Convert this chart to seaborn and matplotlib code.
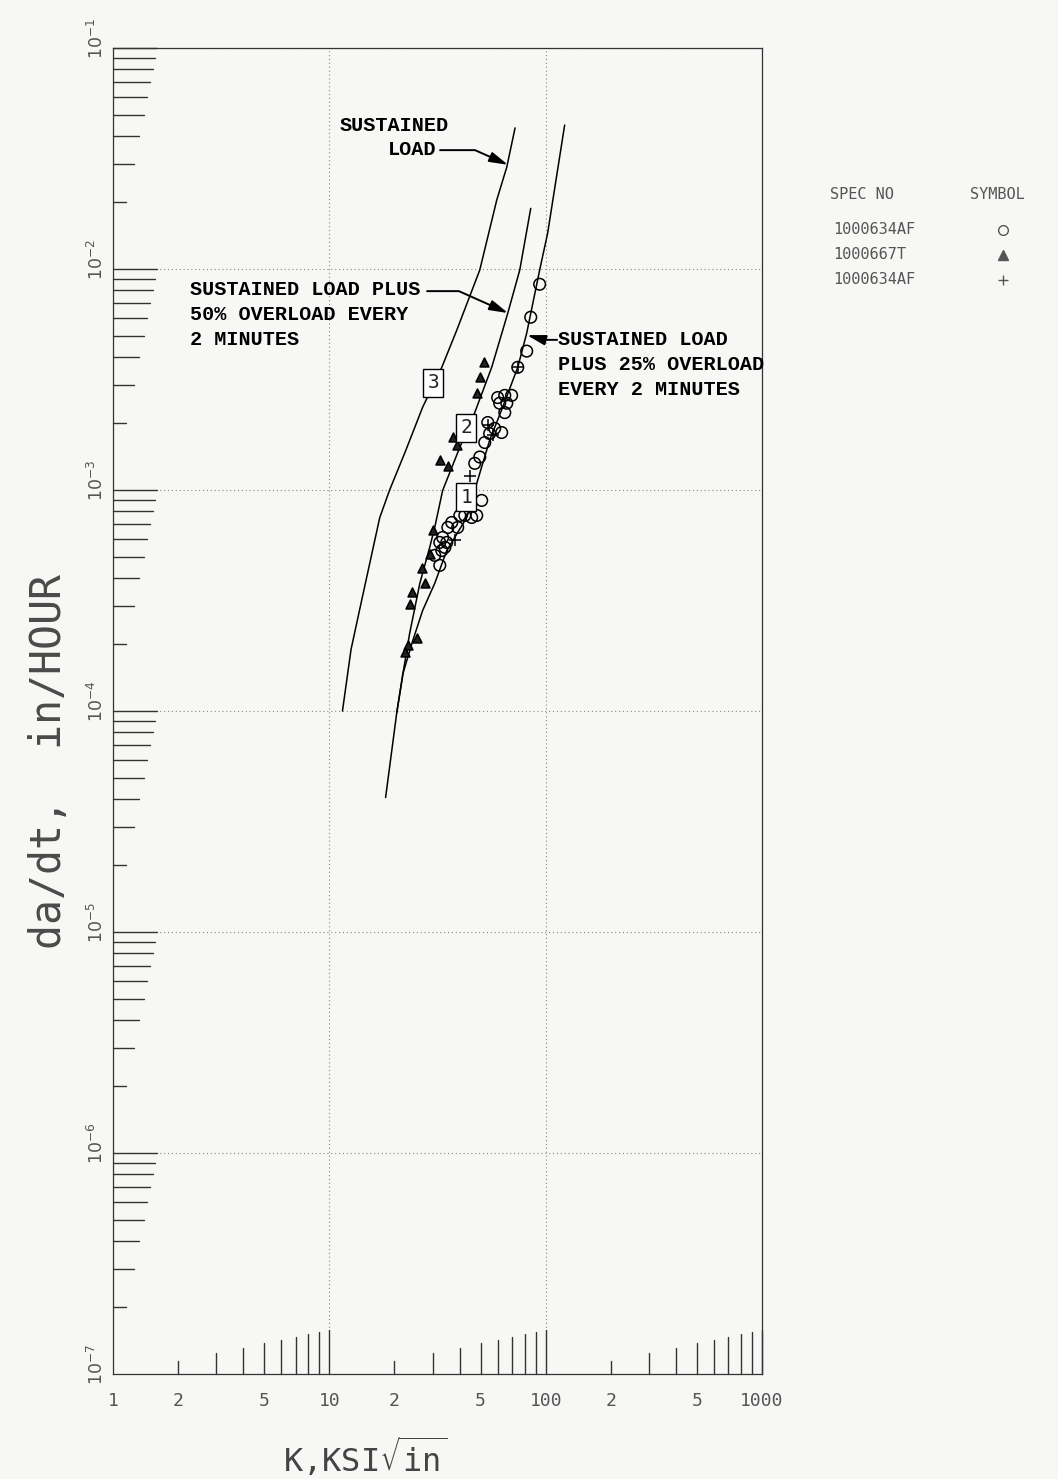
import numpy as np
import matplotlib
matplotlib.use("Agg")
import matplotlib.pyplot as plt
import matplotlib.transforms as mtransforms
from matplotlib.lines import Line2D
import seaborn as sns

# ------------------------------------------------------------------ data
# Curve 1: sustained load plus 25% overload every 2 minutes
curve1_K = [18.2, 20.5, 21.9, 24.3, 27.0, 30.7, 34.9, 43.2, 48.0, 55.1, 63.3,
            74.3, 81.7, 93.8, 102.1, 122.4]
curve1_rate = [4.06e-5, 9.84e-5, 1.48e-4, 2.08e-4, 2.85e-4, 3.78e-4, 5.32e-4,
               7.51e-4, 1.07e-3, 1.68e-3, 2.37e-3, 3.59e-3, 5.12e-3, 9.89e-3,
               1.45e-2, 4.48e-2]
# Curve 2: sustained load plus 50% overload every 2 minutes
curve2_K = [20.5, 21.9, 23.5, 26.2, 29.1, 30.7, 33.4, 40.1, 47.0, 56.3, 63.3,
            66.8, 75.9, 85.3]
curve2_rate = [9.84e-5, 1.48e-4, 2.24e-4, 3.78e-4, 5.50e-4, 6.77e-4, 9.95e-4,
               1.56e-3, 2.24e-3, 3.59e-3, 5.28e-3, 6.31e-3, 9.89e-3, 1.88e-2]
# Curve 3: sustained load
curve3_K = [11.5, 12.6, 14.1, 17.1, 19.0, 22.5, 27.0, 33.1, 38.8, 49.6, 59.4,
            66.1, 72.2]
curve3_rate = [1.0e-4, 1.9e-4, 3.16e-4, 7.5e-4, 1.0e-3, 1.5e-3, 2.37e-3,
               3.59e-3, 5.28e-3, 9.9e-3, 2.05e-2, 2.89e-2, 4.35e-2]

# Spec 1000634AF (circle)
circ_K = [93.8, 85.3, 81.7, 74.3, 60.0, 64.7, 69.6, 61.3, 66.1, 64.7, 54.0,
          58.1, 62.6, 55.1, 52.3, 49.6, 47.0, 50.6, 48.0, 45.5, 42.3, 40.1,
          36.8, 39.2, 35.3, 33.4, 32.4, 34.9, 33.1, 30.7, 32.4, 34.2]
circ_rate = [8.53e-3, 6.05e-3, 4.25e-3, 3.59e-3, 2.62e-3, 2.68e-3, 2.68e-3,
             2.47e-3, 2.47e-3, 2.24e-3, 2.02e-3, 1.90e-3, 1.82e-3, 1.80e-3,
             1.64e-3, 1.41e-3, 1.32e-3, 8.97e-4, 7.67e-4, 7.51e-4, 7.67e-4,
             7.67e-4, 7.13e-4, 6.77e-4, 6.77e-4, 6.10e-4, 5.79e-4, 5.79e-4,
             5.32e-4, 5.06e-4, 4.56e-4, 5.50e-4]
# Spec 1000667T (triangle)
tri_K = [51.7, 49.6, 48.0, 37.2, 38.8, 32.4, 35.3, 30.1, 29.1, 26.7, 27.6,
         24.0, 23.5, 25.4, 23.0, 22.3]
tri_rate = [3.79e-3, 3.24e-3, 2.74e-3, 1.73e-3, 1.59e-3, 1.36e-3, 1.29e-3,
            6.56e-4, 5.16e-4, 4.42e-4, 3.78e-4, 3.44e-4, 3.06e-4, 2.13e-4,
            1.98e-4, 1.84e-4]
# Spec 1000634AF (plus)
plus_K = [74.3, 54.0, 56.9, 44.6, 38.0]
plus_rate = [3.59e-3, 1.96e-3, 1.77e-3, 1.16e-3, 5.91e-4]

x_major = [1, 10, 100, 1000]
x_major_labels = ["1", "10", "100", "1000"]
x_minor = [2, 5, 20, 50, 200, 500]
x_minor_labels = ["2", "5", "2", "5", "2", "5"]
y_major = [1e-7, 1e-6, 1e-5, 1e-4, 1e-3, 1e-2, 1e-1]
y_major_labels = [r"$10^{-7}$", r"$10^{-6}$", r"$10^{-5}$", r"$10^{-4}$",
                  r"$10^{-3}$", r"$10^{-2}$", r"$10^{-1}$"]

legend_specs = ["1000634AF", "1000667T", "1000634AF"]
legend_markers = ["o", "^", "+"]

# ------------------------------------------------------------------ style
sns.set_style("white")
plt.rcParams["font.family"] = ["DejaVu Sans Mono", "DejaVu Sans"]
plt.rcParams["mathtext.fontset"] = "dejavusans"
BG = "#f7f7f5"
GREY = "#555555"

fig = plt.figure(figsize=(10.58, 14.79), dpi=100, facecolor=BG)
ax = fig.add_axes([113 / 1058, 1 - 1374 / 1479, 649 / 1058, 1326 / 1479])
ax.set_facecolor(BG)
ax.set_xscale("log")
ax.set_yscale("log")
ax.set_xlim(1, 1000)
ax.set_ylim(1e-7, 1e-1)

for s in ax.spines.values():
    s.set_color("#333333")
    s.set_linewidth(0.9)

# curves
for K, r in [(curve1_K, curve1_rate), (curve2_K, curve2_rate),
             (curve3_K, curve3_rate)]:
    sns.lineplot(x=K, y=r, sort=False, estimator=None, color="black",
                 lw=1.1, ax=ax)

# data points
ax.scatter(circ_K, circ_rate, marker="o", s=70, facecolors="none",
           edgecolors="black", linewidths=1.1, zorder=4)
ax.scatter(tri_K, tri_rate, marker="^", s=40, facecolors="#222222",
           edgecolors="black", linewidths=1.2, zorder=4)
ax.scatter(plus_K, plus_rate, marker="+", s=70, color="black",
           linewidths=1.1, zorder=4)

# grid at decades
ax.grid(True, which="major", linestyle=(0, (1, 2.5)), color="#888888", lw=0.8)

# ticks & labels
ax.set_xticks(x_major, labels=x_major_labels)
ax.set_xticks(x_minor, labels=x_minor_labels, minor=True)
ax.tick_params(axis="x", which="both", length=0, pad=13, labelsize=13,
               labelcolor=GREY)
ax.set_yticks(y_major, labels=y_major_labels)
ax.yaxis.set_minor_locator(matplotlib.ticker.NullLocator())
ax.tick_params(axis="y", which="both", length=0, pad=4, labelsize=12.5,
               labelcolor=GREY)
for lbl in ax.get_yticklabels():
    lbl.set_rotation(90)
    lbl.set_va("center")
    lbl.set_transform(lbl.get_transform() + mtransforms.ScaledTranslation(
        0, 7 / 72, fig.dpi_scale_trans))

# slide-rule style inside ticks: length proportional to log10(mantissa)
bbox = ax.get_position()
w_px = bbox.width * fig.get_figwidth() * fig.dpi
h_px = bbox.height * fig.get_figheight() * fig.dpi
tick_px = 44
tx = mtransforms.blended_transform_factory(ax.transData, ax.transAxes)
ty = mtransforms.blended_transform_factory(ax.transAxes, ax.transData)
for d in range(0, 3):
    for m in range(2, 11):
        v = m * 10.0 ** d
        L = tick_px * np.log10(m) / h_px
        ax.plot([v, v], [0, L], transform=tx, color="#333333", lw=1.0,
                clip_on=False, zorder=3)
for d in range(-7, -1):
    for m in range(2, 11):
        v = m * 10.0 ** d
        L = tick_px * np.log10(m) / w_px
        ax.plot([0, L], [v, v], transform=ty, color="#333333", lw=1.0,
                clip_on=False, zorder=3)

ax.set_xlabel(r"K,KSI$\sqrt{\mathtt{in}}$", fontsize=23, color="#444444",
              va="center")
ax.xaxis.set_label_coords(0.388, -0.063)
ax.set_ylabel("da/dt,  in/HOUR", fontsize=30, color="#4a4a4a", va="center")
ax.yaxis.set_label_coords(-0.098, 0.462)

# annotations
afont = dict(family="Liberation Mono", fontweight="bold", fontsize=14.5,
             color="black", va="center", ha="left", transform=ax.transAxes)
ax.text(0.3498, 0.9419, "SUSTAINED", **afont)
ax.text(0.4237, 0.9231, "LOAD", **afont)
for i, t in enumerate(["SUSTAINED LOAD PLUS", "50% OVERLOAD EVERY",
                       "2 MINUTES"]):
    ax.text(0.1186, 0.8175 - i * 0.01885, t, **afont)
for i, t in enumerate(["SUSTAINED LOAD", "PLUS 25% OVERLOAD",
                       "EVERY 2 MINUTES"]):
    ax.text(0.6857, 0.7798 - i * 0.01885, t, **afont)

arrow = dict(arrowstyle="-|>,head_length=0.8,head_width=0.22",
             color="black", lw=1.4, shrinkA=0, shrinkB=0, mutation_scale=14)
ax.annotate("", xy=(67.0, 2.96e-2), xytext=(32.5, 3.45e-2),
            arrowprops=dict(**arrow,
                            connectionstyle="angle,angleA=0,angleB=-24,rad=0"))
ax.annotate("", xy=(67.0, 6.32e-3), xytext=(28.3, 7.94e-3),
            arrowprops=dict(**arrow,
                            connectionstyle="angle,angleA=0,angleB=-24,rad=0"))
ax.annotate("", xy=(82.0, 5.02e-3), xytext=(112.9, 4.78e-3),
            arrowprops=dict(**arrow,
                            connectionstyle="angle,angleA=0,angleB=165,rad=0"))

# boxed curve numbers
boxkw = dict(ha="center", va="center", fontsize=14, color="#222222", zorder=6,
             bbox=dict(boxstyle="square,pad=0.22", fc="white", ec="black",
                       lw=1.0))
ax.text(30.2, 3.05e-3, "3", **boxkw)
ax.text(42.9, 1.91e-3, "2", **boxkw)
ax.text(42.9, 9.29e-4, "1", **boxkw)

# legend table
lfont = dict(fontsize=11, color=GREY, va="center", ha="left")
fig.text(0.7845, 0.8682, "SPEC NO", **lfont)
fig.text(0.9168, 0.8682, "SYMBOL", **lfont)
for i, (spec, mk) in enumerate(zip(legend_specs, legend_markers)):
    yy = 0.8445 - i * 0.0169
    fig.text(0.7873, yy, spec, **lfont)
    fig.add_artist(Line2D([0.9480], [yy], marker=mk, markersize=7,
                          markerfacecolor="none" if mk == "o" else GREY,
                          markeredgecolor=GREY, color=GREY, lw=0,
                          transform=fig.transFigure))

fig.savefig("out.png", dpi=100, facecolor=BG)
